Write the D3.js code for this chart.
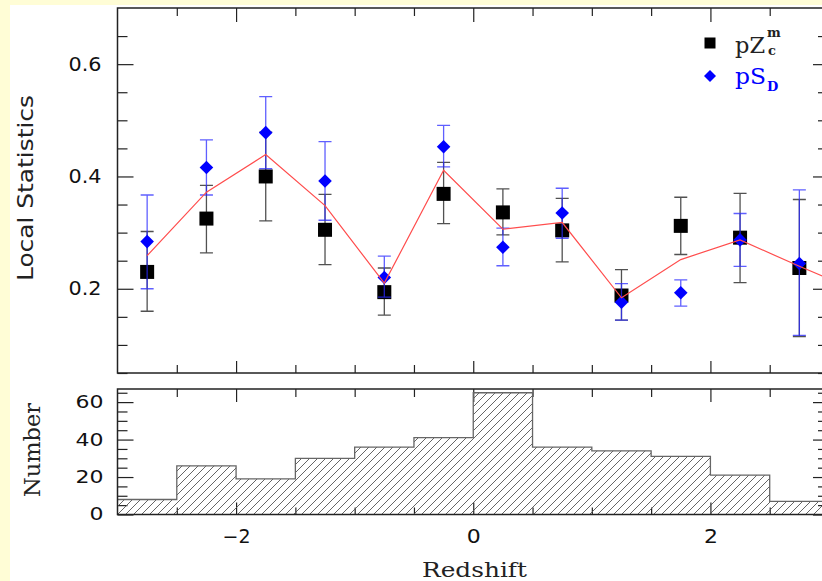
<!DOCTYPE html>
<html>
<head>
<meta charset="utf-8">
<script src="https://cdn.jsdelivr.net/npm/d3@7"></script>
<style>
  html, body { margin: 0; padding: 0; overflow: hidden; background: #fffdd6; }
  svg { display: block; }
</style>
</head>
<body>
<svg id="chart" width="822" height="581"></svg>
<script>
// Bin centres (redshift) of the local statistics
const redshift_bins = [-2.75, -2.25, -1.75, -1.25, -0.75, -0.25, 0.25, 0.75, 1.25, 1.75, 2.25, 2.75];

// pZ_c^m with its error range
const pz_values = [0.230, 0.325, 0.400, 0.305, 0.194, 0.369, 0.336, 0.304, 0.188, 0.312, 0.291, 0.237];
const pz_lower  = [0.160, 0.264, 0.321, 0.243, 0.153, 0.316, 0.296, 0.248, 0.144, 0.261, 0.211, 0.115];
const pz_upper  = [0.302, 0.384, 0.479, 0.368, 0.237, 0.425, 0.378, 0.361, 0.234, 0.363, 0.370, 0.359];

// pS_D with its error range
const ps_values = [0.284, 0.416, 0.478, 0.392, 0.220, 0.453, 0.274, 0.335, 0.176, 0.193, 0.287, 0.245];
const ps_lower  = [0.200, 0.367, 0.414, 0.322, 0.185, 0.417, 0.241, 0.290, 0.144, 0.169, 0.240, 0.117];
const ps_upper  = [0.367, 0.465, 0.542, 0.462, 0.258, 0.491, 0.308, 0.379, 0.209, 0.216, 0.334, 0.376];

// Red line, runs one bin past the right frame
const line_bins   = [-2.75, -2.25, -1.75, -1.25, -0.75, -0.25, 0.25, 0.75, 1.25, 1.75, 2.25, 2.75, 3.25];
const line_values = [0.259, 0.372, 0.439, 0.348, 0.210, 0.411, 0.306, 0.318, 0.184, 0.252, 0.287, 0.240, 0.195];

// Histogram: counts per 0.5 bin
const hist_edges  = [-3, -2.5, -2, -1.5, -1, -0.5, 0, 0.5, 1, 1.5, 2, 2.5, 3];
const hist_counts = [8, 26, 19, 30, 36, 41, 65, 36, 34, 31, 21, 7];

// Tick labels
const stat_ticks = [0.2, 0.4, 0.6];
const count_ticks = [0, 20, 40, 60];
const redshift_ticks = [-2, 0, 2];

const width = 822, height = 581;
const frame_color = '#222';
const svg = d3.select('#chart');
const defs = svg.append('defs');

// Pale yellow page with the white card on it:
svg.append('rect').attr('width', width).attr('height', height).attr('fill', '#fffdd6');
svg.append('rect').attr('x', 10).attr('y', 5).attr('width', width - 10).attr('height', height - 5).attr('fill', '#fff');

const x = d3.scaleLinear().domain([-3, 3]).range([117.5, 829]);
const y_stat = d3.scaleLinear().domain([0.05, 0.7]).range([373, 8]);
const y_count = d3.scaleLinear().domain([0, 67]).range([514.5, 389]);

const not_major = (majors) => (v) => !majors.some((m) => Math.abs(m - v) < 1e-6);
const stat_minor = d3.range(1, 14).map((i) => i * 0.05).filter(not_major(stat_ticks));
const count_minor = d3.range(1, 14).map((i) => i * 5).filter(not_major(count_ticks));
const redshift_minor = d3.range(-5, 6).map((i) => i * 0.5).filter(not_major(redshift_ticks));

function add_axis(axis, values, size, transform, format, text_style) {
    let g = svg.append('g').attr('transform', transform)
        .call(axis.tickValues(values).tickSize(size).tickFormat(format || (() => '')));
    g.select('.domain').remove();
    g.selectAll('line').attr('stroke', frame_color).attr('stroke-width', 1.2);
    if (text_style) {
        g.selectAll('text')
            .attr('font-family', 'DejaVu Sans').attr('fill', '#111')
            .attr('font-size', text_style.size)
            .attr('textLength', (d) => format(d).length * text_style.per_char)
            .attr('lengthAdjust', 'spacingAndGlyphs');
    }
    return g;
}

// Top panel axes: major ticks with labels, minor ticks without
add_axis(d3.axisLeft(y_stat).tickPadding(16), stat_ticks, -16, 'translate(117.5,0)', d3.format('.1f'), {size: 19, per_char: 11});
add_axis(d3.axisLeft(y_stat), stat_minor, -10, 'translate(117.5,0)');
add_axis(d3.axisRight(y_stat), stat_ticks, -16, 'translate(829,0)');
add_axis(d3.axisRight(y_stat), stat_minor, -11, 'translate(829,0)');
add_axis(d3.axisTop(x), redshift_ticks, -14, 'translate(0,8)');
add_axis(d3.axisTop(x), redshift_minor, -8, 'translate(0,8)');
add_axis(d3.axisBottom(x), redshift_ticks, -12, 'translate(0,373)');
add_axis(d3.axisBottom(x), redshift_minor, -8, 'translate(0,373)');

// Bottom panel axes
add_axis(d3.axisLeft(y_count).tickPadding(14), count_ticks, -16, 'translate(117.5,0)', d3.format('d'), {size: 17, per_char: 14});
add_axis(d3.axisLeft(y_count), count_minor, -10, 'translate(117.5,0)');
add_axis(d3.axisRight(y_count), count_ticks, -16, 'translate(829,0)');
add_axis(d3.axisRight(y_count), count_minor, -11, 'translate(829,0)');
add_axis(d3.axisTop(x), redshift_ticks, -13, 'translate(0,389)');
add_axis(d3.axisTop(x), redshift_minor, -8, 'translate(0,389)');
add_axis(d3.axisBottom(x).tickPadding(15), redshift_ticks, -12, 'translate(0,514.5)', d3.format('d'), {size: 19, per_char: 14});
add_axis(d3.axisBottom(x), redshift_minor, -7, 'translate(0,514.5)');

// Hatched histogram
const hatch = defs.append('pattern').attr('id', 'hatch')
    .attr('patternUnits', 'userSpaceOnUse').attr('width', 8).attr('height', 8);
hatch.append('path').attr('d', 'M-1,1L1,-1M0,8L8,0M7,9L9,7')
    .attr('stroke', '#555').attr('stroke-width', 0.9);

const hist_points = hist_edges.map((e, i) => [e, hist_counts[Math.min(i, hist_counts.length - 1)]]);
svg.append('path').datum(hist_points)
    .attr('fill', 'url(#hatch)')
    .attr('d', d3.area().curve(d3.curveStepAfter).x((d) => x(d[0])).y0(y_count(0)).y1((d) => y_count(d[1])));
svg.append('path').datum(hist_points)
    .attr('fill', 'none').attr('stroke', '#666').attr('stroke-width', 1.3)
    .attr('d', d3.line().curve(d3.curveStepAfter).x((d) => x(d[0])).y((d) => y_count(d[1])));

// Top panel marks, clipped to its frame
defs.append('clipPath').attr('id', 'clip_top').append('rect')
    .attr('x', x(-3)).attr('y', y_stat(0.7)).attr('width', x(3) - x(-3)).attr('height', y_stat(0.05) - y_stat(0.7));
const marks = svg.append('g').attr('clip-path', 'url(#clip_top)');

function draw_errors(lower, upper, color, opacity) {
    const cap = 6.5;
    marks.append('g').selectAll('path').data(redshift_bins).join('path')
        .attr('fill', 'none').attr('stroke', color).attr('stroke-width', 1.3).attr('stroke-opacity', opacity)
        .attr('d', (z, i) => {
            let cx = x(z), lo = y_stat(lower[i]), hi = y_stat(upper[i]);
            return `M${cx - cap},${lo}H${cx + cap}M${cx},${lo}V${hi}M${cx - cap},${hi}H${cx + cap}`;
        });
}

draw_errors(pz_lower, pz_upper, '#333', 0.85);
marks.append('g').selectAll('rect').data(redshift_bins).join('rect')
    .attr('x', (z) => x(z) - 7).attr('y', (z, i) => y_stat(pz_values[i]) - 7)
    .attr('width', 14).attr('height', 14).attr('fill', '#000');

draw_errors(ps_lower, ps_upper, '#2a2aff', 0.75);
marks.append('g').selectAll('path').data(redshift_bins).join('path')
    .attr('fill', '#0000ff')
    .attr('d', (z, i) => {
        let cx = x(z), cy = y_stat(ps_values[i]);
        return `M${cx},${cy - 6.8}L${cx + 6.8},${cy}L${cx},${cy + 6.8}L${cx - 6.8},${cy}Z`;
    });

marks.append('path').datum(line_bins.map((z, i) => [z, line_values[i]]))
    .attr('fill', 'none').attr('stroke', '#ff4d4d').attr('stroke-width', 1.2)
    .attr('d', d3.line().x((d) => x(d[0])).y((d) => y_stat(d[1])));

// Frames
svg.append('rect').attr('x', x(-3)).attr('y', y_stat(0.7))
    .attr('width', x(3) - x(-3)).attr('height', y_stat(0.05) - y_stat(0.7))
    .attr('fill', 'none').attr('stroke', frame_color).attr('stroke-width', 1.5);
svg.append('rect').attr('x', x(-3)).attr('y', y_count(67))
    .attr('width', x(3) - x(-3)).attr('height', y_count(0) - y_count(67))
    .attr('fill', 'none').attr('stroke', frame_color).attr('stroke-width', 1.5);

// Axis titles
svg.append('text').attr('transform', 'translate(33,188) rotate(-90)')
    .attr('text-anchor', 'middle').attr('font-family', 'DejaVu Sans').attr('font-size', 22)
    .attr('textLength', 186).attr('lengthAdjust', 'spacingAndGlyphs').attr('fill', '#222')
    .text('Local Statistics');
svg.append('text').attr('transform', 'translate(40,450) rotate(-90)')
    .attr('text-anchor', 'middle').attr('font-family', 'DejaVu Serif').attr('font-size', 22)
    .attr('textLength', 94).attr('lengthAdjust', 'spacingAndGlyphs').attr('fill', '#222')
    .text('Number');
svg.append('text').attr('x', 474.5).attr('y', 577)
    .attr('text-anchor', 'middle').attr('font-family', 'DejaVu Serif').attr('font-size', 21)
    .attr('textLength', 105).attr('lengthAdjust', 'spacingAndGlyphs').attr('fill', '#222')
    .text('Redshift');

// Legend
const legend = svg.append('g').attr('font-family', 'DejaVu Serif');
legend.append('rect').attr('x', 704.5).attr('y', 37.5).attr('width', 11).attr('height', 11).attr('fill', '#000');
legend.append('text').attr('x', 735).attr('y', 53).attr('font-size', 22).attr('fill', '#222')
    .attr('textLength', 30).attr('lengthAdjust', 'spacingAndGlyphs').text('pZ');
legend.append('text').attr('x', 767).attr('y', 37).attr('font-size', 13).attr('font-weight', 'bold').attr('fill', '#222').text('m');
legend.append('text').attr('x', 768).attr('y', 55).attr('font-size', 13).attr('font-weight', 'bold').attr('fill', '#222').text('c');
legend.append('path').attr('d', 'M710,70L716,76L710,82L704,76Z').attr('fill', '#0000ff');
legend.append('text').attr('x', 735).attr('y', 84).attr('font-size', 22).attr('fill', '#0000ff')
    .attr('textLength', 31).attr('lengthAdjust', 'spacingAndGlyphs').text('pS');
legend.append('text').attr('x', 767).attr('y', 91).attr('font-size', 13).attr('font-weight', 'bold').attr('fill', '#0000ff').text('D');
</script>
</body>
</html>
